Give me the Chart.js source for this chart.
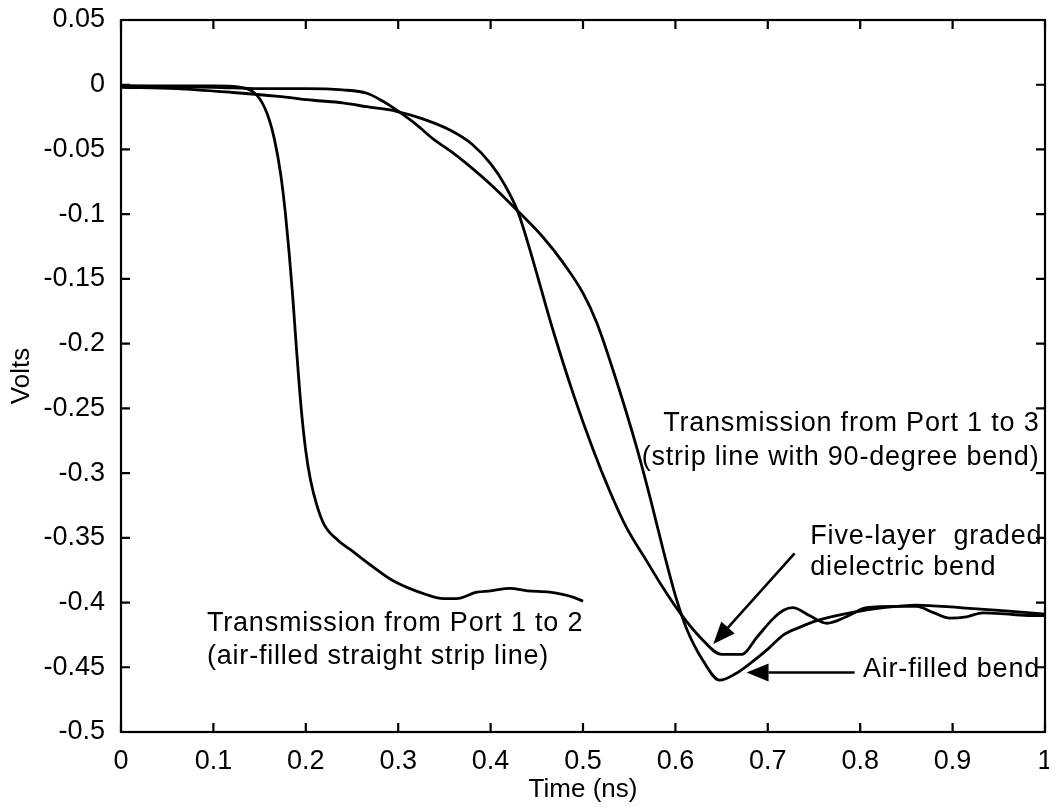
<!DOCTYPE html>
<html>
<head>
<meta charset="utf-8">
<script src="https://cdn.jsdelivr.net/npm/chart.js@4/dist/chart.umd.min.js"></script>
<style>
  body { margin: 0; background: #fff; }
  canvas { display: block; }
</style>
</head>
<body>
<canvas id="myChart" width="1049" height="807"></canvas>
<script>
// Port 1 to 2, air-filled straight strip line
const straightTime = [0, 0.05, 0.1, 0.13, 0.147, 0.158, 0.166, 0.173, 0.178, 0.182, 0.186, 0.19, 0.195, 0.2, 0.205, 0.212, 0.22, 0.235, 0.248, 0.27, 0.294, 0.331, 0.349, 0.363, 0.385, 0.4, 0.421, 0.44, 0.464, 0.49, 0.5];
const straightVolts = [-0.001, -0.001, -0.001, -0.002, -0.008, -0.022, -0.042, -0.07, -0.1, -0.13, -0.165, -0.205, -0.25, -0.283, -0.305, -0.325, -0.34, -0.352, -0.359, -0.371, -0.383, -0.394, -0.397, -0.397, -0.392, -0.391, -0.389, -0.391, -0.392, -0.396, -0.399];

// Port 1 to 3, air-filled bend
const airTime = [0, 0.1, 0.15, 0.2, 0.24, 0.266, 0.284, 0.298, 0.32, 0.338, 0.356, 0.374, 0.403, 0.43, 0.457, 0.479, 0.5, 0.515, 0.535, 0.558, 0.573, 0.587, 0.601, 0.612, 0.63, 0.648, 0.665, 0.681, 0.7, 0.717, 0.735, 0.753, 0.789, 0.825, 0.861, 0.908, 0.95, 0.984, 1.0];
const airVolts = [-0.001, -0.002, -0.003, -0.003, -0.004, -0.0066, -0.013, -0.0195, -0.031, -0.042, -0.051, -0.061, -0.079, -0.098, -0.118, -0.138, -0.161, -0.184, -0.226, -0.28, -0.32, -0.36, -0.397, -0.42, -0.445, -0.46, -0.455, -0.447, -0.436, -0.425, -0.419, -0.414, -0.408, -0.404, -0.402, -0.404, -0.406, -0.408, -0.409];

// Port 1 to 3, five-layer graded dielectric bend
const gradedTime = [0, 0.06, 0.121, 0.17, 0.208, 0.24, 0.266, 0.298, 0.325, 0.356, 0.38, 0.4, 0.415, 0.43, 0.446, 0.466, 0.49, 0.511, 0.529, 0.547, 0.569, 0.587, 0.605, 0.627, 0.65, 0.672, 0.688, 0.705, 0.717, 0.727, 0.745, 0.764, 0.785, 0.807, 0.84, 0.861, 0.88, 0.897, 0.915, 0.933, 0.96, 0.984, 1.0];
const gradedVolts = [-0.002, -0.003, -0.006, -0.009, -0.012, -0.014, -0.017, -0.0205, -0.026, -0.035, -0.046, -0.061, -0.077, -0.099, -0.136, -0.186, -0.24, -0.282, -0.314, -0.342, -0.368, -0.389, -0.408, -0.427, -0.44, -0.44, -0.427, -0.413, -0.406, -0.404, -0.41, -0.416, -0.411, -0.404, -0.403, -0.403, -0.408, -0.412, -0.411, -0.408, -0.409, -0.41, -0.41];

// text labels on the plot (anchored in data units)
const notes = [
  { lines: ['Transmission from Port 1 to 2', '(air-filled straight strip line)'], t: 0.093, v: [-0.4166, -0.442], align: 'left' },
  { lines: ['Transmission from Port 1 to 3', '(strip line with 90-degree bend)'], t: 0.994, v: [-0.262, -0.288], align: 'right' },
  { lines: ['Five-layer  graded', 'dielectric bend'], t: 0.746, v: [-0.349, -0.373], align: 'left' },
  { lines: ['Air-filled bend'], t: 0.803, v: [-0.452], align: 'left' }
];
const arrows = [
  { from: [0.729, -0.362], to: [0.641, -0.432] },
  { from: [0.794, -0.454], to: [0.677, -0.454] }
];

function toPoints(xs, ys) {
  var pts = [];
  for (var i = 0; i < xs.length; i++) pts.push({ x: xs[i], y: ys[i] });
  return pts;
}

const FONT = '"Liberation Sans", Arial, Helvetica, sans-serif';

function lineSet(label, xs, ys) {
  return {
    label: label,
    data: toPoints(xs, ys),
    borderColor: '#000',
    borderWidth: 2.8,
    pointRadius: 0,
    cubicInterpolationMode: 'monotone',
    fill: false
  };
}

// box, inward ticks, notes and arrows
const matlabBox = {
  id: 'matlabBox',
  afterDraw(chart) {
    const ctx = chart.ctx;
    const a = chart.chartArea;
    const xs = chart.scales.x, ys = chart.scales.y;
    ctx.save();
    ctx.strokeStyle = '#000';
    ctx.lineWidth = 2.2;
    ctx.strokeRect(a.left, a.top, a.right - a.left, a.bottom - a.top);
    const tl = 9;
    ctx.beginPath();
    xs.ticks.forEach(function (tk) {
      const px = xs.getPixelForValue(tk.value);
      ctx.moveTo(px, a.bottom); ctx.lineTo(px, a.bottom - tl);
      ctx.moveTo(px, a.top); ctx.lineTo(px, a.top + tl);
    });
    ys.ticks.forEach(function (tk) {
      const py = ys.getPixelForValue(tk.value);
      ctx.moveTo(a.left, py); ctx.lineTo(a.left + tl, py);
      ctx.moveTo(a.right, py); ctx.lineTo(a.right - tl, py);
    });
    ctx.stroke();

    ctx.fillStyle = '#000';
    ctx.font = '27px ' + FONT;
    ctx.textBaseline = 'middle';
    if ('letterSpacing' in ctx) ctx.letterSpacing = '0.8px';
    notes.forEach(function (n) {
      ctx.textAlign = n.align;
      n.lines.forEach(function (txt, i) {
        ctx.fillText(txt, xs.getPixelForValue(n.t), ys.getPixelForValue(n.v[i]));
      });
    });
    if ('letterSpacing' in ctx) ctx.letterSpacing = '0px';

    ctx.lineWidth = 2.5;
    arrows.forEach(function (ar) {
      const x1 = xs.getPixelForValue(ar.from[0]), y1 = ys.getPixelForValue(ar.from[1]);
      const x2 = xs.getPixelForValue(ar.to[0]), y2 = ys.getPixelForValue(ar.to[1]);
      const ang = Math.atan2(y2 - y1, x2 - x1);
      const hl = 22, hw = 9;
      const bx = x2 - hl * Math.cos(ang), by = y2 - hl * Math.sin(ang);
      ctx.beginPath();
      ctx.moveTo(x1, y1); ctx.lineTo(bx, by);
      ctx.stroke();
      ctx.beginPath();
      ctx.moveTo(x2, y2);
      ctx.lineTo(bx + hw * Math.sin(ang), by - hw * Math.cos(ang));
      ctx.lineTo(bx - hw * Math.sin(ang), by + hw * Math.cos(ang));
      ctx.closePath();
      ctx.fill();
    });
    ctx.restore();
  }
};

function fmt(v) { return parseFloat(Number(v).toFixed(2)).toString(); }

window.onload = function () {
  new Chart(document.getElementById('myChart'), {
    type: 'line',
    data: {
      datasets: [
        lineSet('Port 1 to 2 (straight)', straightTime, straightVolts),
        lineSet('Air-filled bend', airTime, airVolts),
        lineSet('Five-layer graded dielectric bend', gradedTime, gradedVolts)
      ]
    },
    options: {
      responsive: false,
      animation: false,
      layout: { padding: { top: 20, right: 4, bottom: 0, left: 0 } },
      plugins: { legend: { display: false }, tooltip: { enabled: false } },
      scales: {
        x: {
          type: 'linear',
          min: 0, max: 1,
          grid: { display: false },
          border: { display: false },
          ticks: { stepSize: 0.1, color: '#000', padding: 5, maxRotation: 0, font: { family: FONT, size: 27 }, callback: fmt },
          title: { display: true, text: 'Time (ns)', color: '#000', font: { family: FONT, size: 26 }, padding: { top: 0, bottom: 2 } },
          afterFit: function (s) { s.height = 75; s.paddingLeft = 0; s.paddingRight = 0; }
        },
        y: {
          min: -0.5, max: 0.05,
          grid: { display: false },
          border: { display: false },
          ticks: { stepSize: 0.05, color: '#000', padding: 8, font: { family: FONT, size: 27 }, callback: fmt },
          title: { display: true, text: 'Volts', color: '#000', font: { family: FONT, size: 26 }, padding: { top: 6, bottom: 0 } },
          afterFit: function (s) { s.width = 121; s.paddingTop = 0; s.paddingBottom = 0; }
        }
      }
    },
    plugins: [matlabBox]
  });
};
</script>
</body>
</html>
